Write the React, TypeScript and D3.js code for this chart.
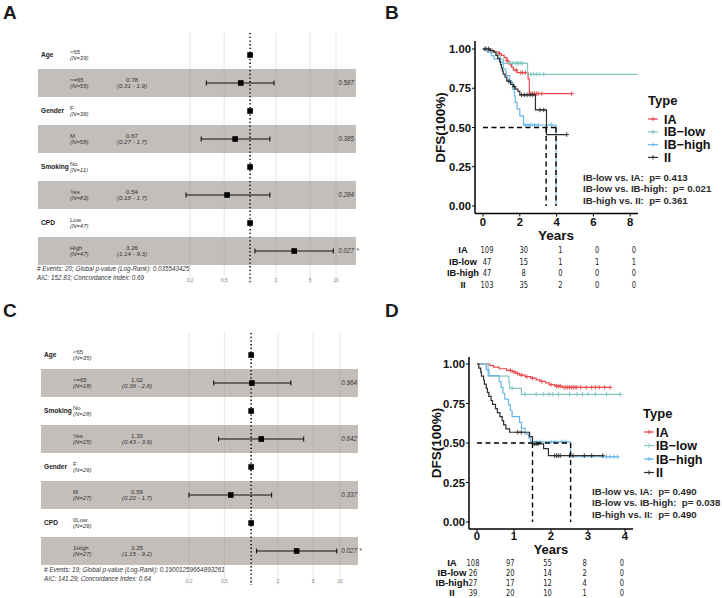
import React from "react";
import * as d3 from "d3";

const FONT = "'Liberation Sans', Arial, Helvetica, sans-serif";
const NARROW = "'Liberation Sans Narrow', 'Arial Narrow', 'DejaVu Sans Condensed', sans-serif";

// ---------- forest plot data (A: cohort 1, C: cohort 2) ----------
const aVars = ["Age", "Gender", "Smoking", "CPD"];
const aLevels = [["<65", ">=65"], ["F", "M"], ["No", "Yes"], ["Low", "High"]];
const aCounts = [[39, 55], [36, 58], [11, 83], [47, 47]];
const aHR = [0.78, 0.67, 0.54, 3.26];
const aLow = [0.31, 0.27, 0.18, 1.14];
const aHigh = [1.9, 1.7, 1.7, 9.3];
const aP = ["0.587", "0.385", "0.284", "0.027"];
const aStars = ["", "", "", "*"];
const aFooter = [
  "# Events: 20; Global p-value (Log-Rank): 0.035543425",
  "AIC: 152.83; Concordance Index: 0.69",
];

const cVars = ["Age", "Smoking", "Gender", "CPD"];
const cLevels = [["<65", ">=65"], ["No", "Yes"], ["F", "M"], ["0Low", "1High"]];
const cCounts = [[35, 18], [28, 25], [26, 27], [26, 27]];
const cHR = [1.02, 1.3, 0.59, 3.25];
const cLow = [0.38, 0.43, 0.2, 1.15];
const cHigh = [2.8, 3.9, 1.7, 9.2];
const cP = ["0.964", "0.642", "0.337", "0.027"];
const cStars = ["", "", "", "*"];
const cFooter = [
  "# Events: 19; Global p-value (Log-Rank): 0.19001259664893261",
  "AIC: 141.29; Concordance Index: 0.64",
];

const hrTicks = [0.2, 0.5, 1, 2, 5, 10];

// ---------- survival data ----------
const groups = ["IA", "IB-low", "IB-high", "II"];
const legendLabels = ["IA", "IB\u2212low", "IB\u2212high", "II"];
const groupColors = ["#E8484C", "#82C6C0", "#69B7E9", "#2E2E2E"];

// panel B
const bIATimes = [0.35, 0.6, 0.85, 1.0, 1.15, 1.3, 1.4, 1.55, 1.65, 1.85, 2.45, 2.52];
const bIASurv = [0.99, 0.98, 0.97, 0.96, 0.945, 0.925, 0.905, 0.885, 0.865, 0.85, 0.81, 0.716];
const bIACens = [0.2, 0.5, 0.9, 1.3, 1.5, 1.8, 2.05, 2.15, 2.3, 2.6, 2.7, 2.8, 2.9, 3.0, 3.2, 4.82];
const bLowTimes = [0.45, 0.75, 0.95, 1.1, 2.42];
const bLowSurv = [0.979, 0.957, 0.935, 0.909, 0.839];
const bLowCens = [0.15, 0.3, 1.5, 1.6, 1.75, 1.85, 1.95, 2.05, 2.15, 2.6, 2.75, 2.9, 3.05, 3.3];
const bHighTimes = [0.25, 0.45, 0.6, 0.95, 1.1, 1.25, 1.45, 1.6, 1.7, 1.75, 1.85, 2.0, 2.2, 3.97];
const bHighSurv = [0.979, 0.957, 0.936, 0.915, 0.872, 0.83, 0.787, 0.745, 0.702, 0.66, 0.617, 0.574, 0.516, 0];
const bHighCens = [0.15, 1.55, 2.3, 2.45, 2.6, 2.8, 3.0, 3.7];
const bIITimes = [0.4, 0.6, 0.7, 0.8, 0.9, 0.95, 1.0, 1.05, 1.1, 1.2, 1.3, 1.5, 1.65, 1.75, 1.9, 2.0, 2.85, 3.45];
const bIISurv = [0.99, 0.98, 0.96, 0.94, 0.92, 0.9, 0.88, 0.86, 0.84, 0.82, 0.795, 0.775, 0.76, 0.745, 0.73, 0.708, 0.612, 0.455];
const bIICens = [0.1, 0.3, 1.4, 1.7, 2.1, 2.25, 2.4, 2.55, 2.7, 3.1, 3.3, 4.55];
const bEnds = [4.82, 8.4, 3.97, 4.55];
const bMedians = [3.43, 3.97];
const bCompare = ["IB-low vs. IA:", "IB-low vs. IB-high:", "IB-high vs. II:"];
const bPvals = ["0.413", "0.021", "0.361"];
const bRiskTimes = [0, 2, 4, 6, 8];
const bRisk = [[109, 30, 1, 0, 0], [47, 15, 1, 1, 1], [47, 8, 0, 0, 0], [103, 35, 2, 0, 0]];

// panel D
const dIATimes = [0.35, 0.45, 0.6, 0.8, 0.95, 1.05, 1.15, 1.3, 1.45, 1.6, 1.7, 1.85, 1.95, 2.1, 2.3];
const dIASurv = [0.99, 0.98, 0.97, 0.96, 0.95, 0.94, 0.93, 0.92, 0.91, 0.9, 0.89, 0.88, 0.87, 0.86, 0.852];
const dIACens = [0.9, 1.0, 1.1, 1.2, 1.35, 1.5, 1.75, 2.0, 2.15, 2.2, 2.25, 2.35, 2.4, 2.45, 2.5, 2.55, 2.6, 2.65, 2.7, 2.8, 2.95, 3.1, 3.2, 3.3, 3.45, 3.6];
const dLowTimes = [0.3, 0.33, 0.86, 0.88, 1.2];
const dLowSurv = [0.962, 0.923, 0.885, 0.846, 0.808];
const dLowCens = [0.95, 1.3, 1.6, 1.8, 1.95, 2.05, 2.2, 2.5, 2.7, 2.85, 3.0, 3.2, 3.5, 3.87];
const dHighTimes = [0.25, 0.3, 0.6, 0.65, 0.7, 0.75, 0.85, 0.9, 0.95, 1.15, 1.2, 1.3, 1.4, 1.45, 2.53];
const dHighSurv = [0.963, 0.926, 0.889, 0.852, 0.815, 0.778, 0.741, 0.704, 0.667, 0.63, 0.593, 0.556, 0.53, 0.507, 0.413];
const dHighCens = [1.6, 1.7, 2.0, 2.1, 2.3, 2.4, 3.5, 3.6, 3.7, 3.8];
const dIITimes = [0.05, 0.1, 0.12, 0.18, 0.2, 0.25, 0.28, 0.32, 0.38, 0.42, 0.5, 0.55, 0.62, 0.68, 0.72, 0.78, 0.88, 1.42, 1.5, 1.8, 1.93];
const dIISurv = [0.974, 0.949, 0.923, 0.897, 0.872, 0.846, 0.821, 0.795, 0.769, 0.744, 0.718, 0.692, 0.667, 0.641, 0.615, 0.59, 0.568, 0.54, 0.495, 0.465, 0.42];
const dIICens = [1.1, 1.2, 1.55, 1.6, 1.65, 2.1, 2.15, 2.2, 2.25, 2.5, 2.6, 2.9, 3.1, 3.4];
const dEnds = [3.6, 3.87, 3.8, 3.4];
const dMedians = [1.5, 2.53];
const dCompare = ["IB-low vs. IA:", "IB-low vs. IB-high:", "IB-high vs. II:"];
const dPvals = ["0.490", "0.038", "0.490"];
const dRiskTimes = [0, 1, 2, 3, 4];
const dRisk = [[108, 97, 55, 8, 0], [26, 20, 14, 2, 0], [27, 17, 12, 4, 0], [39, 20, 10, 1, 0]];

// ---------- forest plot ----------
function Forest(props: any) {
  const { vars, levels, counts, hr, lo, hi, pv, stars, footer, L } = props;
  const x = d3.scaleLog().domain([0.2, 10]).range([L.g0, L.g1]);
  const rowH = 28;
  const rows: any[] = [];
  vars.forEach((v: string, i: number) => {
    [0, 1].forEach((j) => {
      rows.push({ v: j === 0 ? v : "", lev: levels[i][j], n: counts[i][j], ref: j === 0, i, k: i * 2 + j });
    });
  });
  const yc = (k: number) => L.top + rowH * k + rowH / 2;
  return (
    <g fontFamily={FONT}>
      {rows.filter((r) => !r.ref).map((r) => (
        <rect key={"s" + r.k} x={L.s0} width={L.s1 - L.s0} y={yc(r.k) - rowH / 2} height={rowH} fill="#c3beba" />
      ))}
      {hrTicks.filter((t) => t !== 1).map((t) => (
        <line key={"g" + t} x1={x(t)} x2={x(t)} y1={L.gTop} y2={L.gBot} stroke="#9a9a9a" strokeOpacity={0.35} strokeWidth={0.7} />
      ))}
      <line x1={x(1)} x2={x(1)} y1={L.gTop} y2={L.gBot} stroke="#111" strokeWidth={1.6} strokeDasharray="1.3,2.4" />
      {rows.map((r) => {
        const cy = yc(r.k);
        const est = r.ref ? 1 : hr[r.i];
        return (
          <g key={"r" + r.k}>
            {r.v && (
              <text x={L.varX} y={cy + 2.3} fontSize={6.6} fontWeight="bold" fill="#222">{r.v}</text>
            )}
            <text x={L.levX} y={cy - 0.6} fontSize={6} fill="#333">{r.lev}</text>
            <text x={L.levX} y={cy + 5} fontSize={6} fontStyle="italic" fill="#333">{`(N=${r.n})`}</text>
            {!r.ref && (
              <g>
                <text x={L.hrX} y={cy - 0.6} fontSize={6.2} textAnchor="middle" fill="#333">{hr[r.i].toFixed(2)}</text>
                <text x={L.hrX} y={cy + 5} fontSize={6.2} fontStyle="italic" textAnchor="middle" fill="#333">
                  {`(${lo[r.i].toFixed(2)} - ${hi[r.i].toPrecision(2)})`}
                </text>
                <text x={L.pX} y={cy + 2.3} fontSize={6.3} fontStyle="italic" textAnchor="end" fill="#333">{pv[r.i]}</text>
                {stars[r.i] && <text x={L.pX + 2.5} y={cy + 2.3} fontSize={6.3} fill="#333">{stars[r.i]}</text>}
                <line x1={x(lo[r.i])} x2={x(hi[r.i])} y1={cy} y2={cy} stroke="#111" strokeWidth={1.2} />
                <line x1={x(lo[r.i])} x2={x(lo[r.i])} y1={cy - 2.4} y2={cy + 2.4} stroke="#111" strokeWidth={1.1} />
                <line x1={x(hi[r.i])} x2={x(hi[r.i])} y1={cy - 2.4} y2={cy + 2.4} stroke="#111" strokeWidth={1.1} />
              </g>
            )}
            <rect x={x(est) - 2.8} y={cy - 2.8} width={5.6} height={5.6} fill="#000" />
          </g>
        );
      })}
      {footer.map((f: string, i: number) => (
        <text key={"f" + i} x={L.fX} y={L.fY + i * 9} fontSize={6.3} fontStyle="italic" fill="#333">{f}</text>
      ))}
      {hrTicks.map((t) => (
        <text key={"t" + t} x={x(t)} y={L.tickY} fontSize={5} textAnchor="middle" fill="#888">{t}</text>
      ))}
    </g>
  );
}

// ---------- Kaplan-Meier panel ----------
function survAt(times: number[], surv: number[], t: number) {
  let s = 1;
  times.forEach((tt, i) => {
    if (tt <= t) s = surv[i];
  });
  return s;
}

function KM(props: any) {
  const { curves, ends, medians, compare, pvals, riskTimes, risk, L } = props;
  const x = d3.scaleLinear().domain([0, L.xMax]).range([L.x0, L.x1]);
  const y = d3.scaleLinear().domain([0, 1]).range([L.y0, L.y1]);
  const rx = d3.scaleLinear().domain([0, L.xMax]).range([L.r0, L.r1]);
  const step = d3.line<[number, number]>().x((d) => x(d[0])).y((d) => y(d[1])).curve(d3.curveStepAfter);
  const xTicks = riskTimes;
  const yTicks = [0, 0.25, 0.5, 0.75, 1];
  const medMax = d3.max(medians as number[]) as number;
  const plus = (px: number, py: number) => `M${px - 2.3},${py}h4.6M${px},${py - 2.3}v4.6`;
  return (
    <g fontFamily={FONT}>
      {curves.map((c: any, gi: number) => {
        const pts: [number, number][] = [[0, 1]];
        c.times.forEach((t: number, i: number) => pts.push([t, c.surv[i]]));
        pts.push([ends[gi], c.surv[c.surv.length - 1]]);
        const marks = c.cens.map((t: number) => plus(x(t), y(survAt(c.times, c.surv, t)))).join("");
        return (
          <g key={"c" + gi}>
            <path d={step(pts) as string} fill="none" stroke={groupColors[gi]} strokeWidth={1.2} />
            <path d={marks} fill="none" stroke={groupColors[gi]} strokeWidth={0.9} />
          </g>
        );
      })}
      <line x1={x(0)} x2={x(medMax)} y1={y(0.5)} y2={y(0.5)} stroke="#000" strokeWidth={1.4} strokeDasharray="5,3.5" />
      {medians.map((m: number) => (
        <line key={"m" + m} x1={x(m)} x2={x(m)} y1={y(0.5)} y2={y(0)} stroke="#000" strokeWidth={1.4} strokeDasharray="5,3.5" />
      ))}
      <line x1={L.left} x2={L.left} y1={L.top} y2={L.bottom} stroke="#000" strokeWidth={1.5} />
      <line x1={L.left} x2={L.right} y1={L.bottom} y2={L.bottom} stroke="#000" strokeWidth={1.5} />
      {yTicks.map((t) => (
        <g key={"y" + t}>
          <line x1={L.left - 3} x2={L.left} y1={y(t)} y2={y(t)} stroke="#000" strokeWidth={1} />
          <text x={L.left - 4} y={y(t) + 4} fontSize={11.3} fontWeight="bold" textAnchor="end" fill="#111">{t.toFixed(2)}</text>
        </g>
      ))}
      {xTicks.map((t: number) => (
        <g key={"x" + t}>
          <line x1={x(t)} x2={x(t)} y1={L.bottom} y2={L.bottom + 3} stroke="#000" strokeWidth={1} />
          <text x={x(t)} y={L.bottom + L.xTickDy} fontSize={11.3} fontWeight="bold" textAnchor="middle" fill="#111">{t}</text>
        </g>
      ))}
      <text x={L.xlabX} y={L.bottom + L.xlabDy} fontSize={L.xlabSize} fontWeight="bold" textAnchor="middle" fill="#111">Years</text>
      <text transform={`translate(${L.ylabX},${(L.y0 + L.y1) / 2}) rotate(-90)`} fontSize={13.5} fontWeight="bold" textAnchor="middle" fill="#111">DFS(100%)</text>
      <text x={L.legX} y={L.legY} fontSize={13} fontWeight="bold" fill="#111">Type</text>
      {legendLabels.map((g, i) => {
        const cy = L.legY + 14 + i * L.legStep;
        return (
          <g key={"l" + g}>
            <line x1={L.keyX} x2={L.keyX + 10} y1={cy} y2={cy} stroke={groupColors[i]} strokeWidth={1.2} />
            <path d={plus(L.keyX + 5, cy)} stroke={groupColors[i]} strokeWidth={0.9} />
            <text x={L.legTextX} y={cy + 4.5} fontSize={12.6} fontWeight="bold" fill="#111">{g}</text>
          </g>
        );
      })}
      {compare.map((c: string, i: number) => (
        <text key={"p" + i} x={L.pX} y={L.pY + i * L.pStep} fontSize={9.7} fontWeight="bold" fill="#2b2b2b" style={{ whiteSpace: "pre" }}>
          {`${c}  p= ${pvals[i]}`}
        </text>
      ))}
      {groups.map((g, i) => (
        <g key={"rk" + g}>
          <text x={L.rLabX} y={L.rY + i * L.rStep} fontSize={L.rLabSize} fontWeight="bold" textAnchor="middle" fill="#111">{g}</text>
          {risk[i].map((n: number, j: number) => (
            <text key={j} transform={`translate(${rx(riskTimes[j])},${L.rY + i * L.rStep}) scale(0.78,1)`} fontSize={9.6} fontFamily={NARROW} textAnchor="middle" fill="#222">{n}</text>
          ))}
        </g>
      ))}
    </g>
  );
}

const forestA = { top: 41, s0: 38, s1: 356, g0: 190, g1: 336, gTop: 33, gBot: 284, varX: 41, levX: 70, hrX: 132, pX: 354, fX: 37, fY: 271, tickY: 282 };
const forestC = { top: 341, s0: 41, s1: 358, g0: 189, g1: 340, gTop: 333, gBot: 585, varX: 44, levX: 73, hrX: 137, pX: 357, fX: 44, fY: 572, tickY: 583 };

const kmB = {
  xMax: 8, x0: 483, x1: 630.2, y0: 206, y1: 49, left: 475, right: 638, top: 41, bottom: 213.5,
  xTickDy: 12, xlabX: 556, xlabDy: 26, xlabSize: 13.5, ylabX: 445,
  legX: 648, legY: 105, keyX: 648, legTextX: 664, legStep: 12.8,
  pX: 583, pY: 180.5, pStep: 11.7,
  r0: 487, r1: 634, rLabX: 463, rY: 253, rStep: 11.5, rLabSize: 9.3,
};
const kmD = {
  xMax: 4, x0: 477, x1: 625, y0: 522, y1: 364, left: 469, right: 633, top: 357, bottom: 529,
  xTickDy: 10.5, xlabX: 551, xlabDy: 24.5, xlabSize: 13, ylabX: 441,
  legX: 643, legY: 418, keyX: 644, legTextX: 656, legStep: 13.5,
  pX: 592, pY: 495, pStep: 11.3,
  r0: 473, r1: 622, rLabX: 452, rY: 565.5, rStep: 10.1, rLabSize: 9.6,
};

export default function App() {
  const bCurves = [
    { times: bIATimes, surv: bIASurv, cens: bIACens },
    { times: bLowTimes, surv: bLowSurv, cens: bLowCens },
    { times: bHighTimes, surv: bHighSurv, cens: bHighCens },
    { times: bIITimes, surv: bIISurv, cens: bIICens },
  ];
  const dCurves = [
    { times: dIATimes, surv: dIASurv, cens: dIACens },
    { times: dLowTimes, surv: dLowSurv, cens: dLowCens },
    { times: dHighTimes, surv: dHighSurv, cens: dHighCens },
    { times: dIITimes, surv: dIISurv, cens: dIICens },
  ];
  return (
    <svg width={722} height={598} style={{ position: "absolute", left: 0, top: 0, background: "#fff" }}>
      <rect width={722} height={598} fill="#fff" />
      <g fontFamily={FONT} fontWeight="bold" fontSize={19} fill="#1a1a1a">
        <text x={3} y={19}>A</text>
        <text x={385} y={19}>B</text>
        <text x={3} y={317}>C</text>
        <text x={385} y={317}>D</text>
      </g>
      <Forest vars={aVars} levels={aLevels} counts={aCounts} hr={aHR} lo={aLow} hi={aHigh} pv={aP} stars={aStars} footer={aFooter} L={forestA} />
      <Forest vars={cVars} levels={cLevels} counts={cCounts} hr={cHR} lo={cLow} hi={cHigh} pv={cP} stars={cStars} footer={cFooter} L={forestC} />
      <KM curves={bCurves} ends={bEnds} medians={bMedians} compare={bCompare} pvals={bPvals} riskTimes={bRiskTimes} risk={bRisk} L={kmB} />
      <KM curves={dCurves} ends={dEnds} medians={dMedians} compare={dCompare} pvals={dPvals} riskTimes={dRiskTimes} risk={dRisk} L={kmD} />
    </svg>
  );
}
